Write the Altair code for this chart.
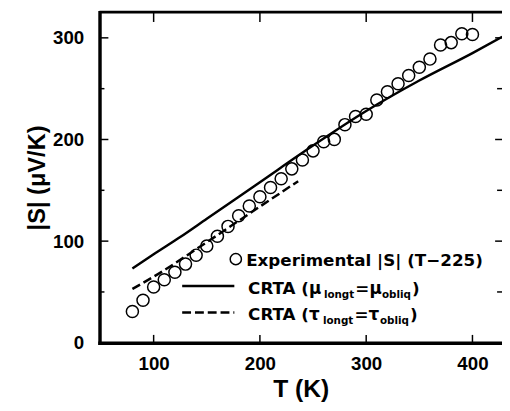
import altair as alt
import pandas as pd

# ---- data ----
T_exp = [80, 90, 100, 110, 120, 130, 140, 150, 160, 170, 180, 190, 200, 210, 220,
         230, 240, 250, 260, 270, 280, 290, 300, 310, 320, 330, 340, 350, 360, 370,
         380, 390, 400]
S_exp = [30.7, 41.9, 54.9, 62.0, 69.4, 77.4, 86.2, 95.2, 104.8, 114.5, 124.9, 134.6,
         143.6, 152.7, 161.4, 171.1, 179.8, 188.8, 197.8, 200.1, 214.6, 222.6, 224.9,
         238.8, 246.9, 254.9, 263.0, 271.1, 279.1, 293.0, 295.3, 304.0, 303.3]
T_mu = [80, 100, 125, 150, 200, 250, 300, 350, 400, 428]
S_mu = [73, 87, 104, 122, 158, 194, 228, 258, 285, 301]
T_tau = [80, 100, 150, 200, 236]
S_tau = [53, 65, 99, 134, 159]
x_ticks = [100, 200, 300, 400]
y_ticks = [0, 100, 200, 300]
y_major_in = [100, 200, 300]
y_minor_in = [50, 150, 250]

FONT = "Liberation Sans"
LFONT = "DejaVu Sans"
W, H = 409, 336
xs = alt.Scale(domain=[49.07, 427.8], nice=False, zero=False)
ys = alt.Scale(domain=[0, 325.3], nice=False, zero=False)

ax_x = alt.Axis(
    values=x_ticks, ticks=False, grid=False, domainWidth=3.5, domainColor="black",
    domainCap="square", labelFont=FONT, labelFontSize=19, labelFontWeight="bold",
    labelColor="black", labelPadding=12, labelFlush=False, format="d",
    title="T (K)", titleFont=FONT, titleFontSize=25, titleFontWeight="bold",
    titleColor="black", titlePadding=4)
ax_y = alt.Axis(
    values=y_ticks, ticks=False, grid=False, domainWidth=3.5, domainColor="black",
    domainCap="square", labelFont=FONT, labelFontSize=19, labelFontWeight="bold",
    labelColor="black", labelPadding=16, labelFlush=False, format="d",
    title="|S| (μV/K)", titleFont=FONT, titleFontSize=24, titleFontWeight="bold",
    titleColor="black", titlePadding=3)

X = alt.X("T:Q", scale=xs, axis=ax_x)
Y = alt.Y("S:Q", scale=ys, axis=ax_y)

exp_df = pd.DataFrame({"T": T_exp, "S": S_exp})
mu_df = pd.DataFrame({"T": T_mu, "S": S_mu})
tau_df = pd.DataFrame({"T": T_tau, "S": S_tau})

points = alt.Chart(exp_df).mark_point(
    shape="circle", filled=False, size=150, stroke="black", strokeWidth=1.5, opacity=1
).encode(x=X, y=Y)

mu_line = alt.Chart(mu_df).mark_line(
    color="black", strokeWidth=2.5, interpolate="monotone", clip=True
).encode(x=X, y=Y)

tau_line = alt.Chart(tau_df).mark_line(
    color="black", strokeWidth=2.5, strokeDash=[9, 4], interpolate="monotone"
).encode(x=X, y=Y)

# frame & inward ticks
one = pd.DataFrame({"a": [0]})
top_frame = alt.Chart(one).mark_rule(color="black", strokeWidth=3).encode(
    x=alt.value(0), x2=alt.value(W), y=alt.value(0))

xt = pd.DataFrame({"T": x_ticks})
bot_ticks = alt.Chart(xt).mark_rule(color="black", strokeWidth=1.5).encode(
    x=X, y=alt.value(H), y2=alt.value(H - 8))
top_ticks = alt.Chart(xt).mark_rule(color="black", strokeWidth=1.5).encode(
    x=X, y=alt.value(0), y2=alt.value(10))

ymaj = pd.DataFrame({"S": y_major_in})
ymin = pd.DataFrame({"S": y_minor_in})
left_maj = alt.Chart(ymaj).mark_rule(color="black", strokeWidth=1.5).encode(
    y=Y, x=alt.value(0), x2=alt.value(9))
left_min = alt.Chart(ymin).mark_rule(color="black", strokeWidth=1.5).encode(
    y=Y, x=alt.value(0), x2=alt.value(5))
right_maj = alt.Chart(ymaj).mark_rule(color="black", strokeWidth=1.5).encode(
    y=Y, x=alt.value(W), x2=alt.value(W - 7))
right_min = alt.Chart(ymin).mark_rule(color="black", strokeWidth=1.5).encode(
    y=Y, x=alt.value(W), x2=alt.value(W - 5))

# legend (manual, to allow subscripts)
def txt(s, x, y, size=17):
    return alt.Chart(one).mark_text(
        text=s, font=LFONT, fontSize=size, fontWeight="bold", color="black",
        align="left", baseline="alphabetic"
    ).encode(x=alt.value(x), y=alt.value(y))

leg_circle = alt.Chart(one).mark_point(
    shape="circle", filled=False, size=130, stroke="black", strokeWidth=1.5, opacity=1
).encode(x=alt.value(138.5), y=alt.value(251))
leg_solid = alt.Chart(one).mark_rule(color="black", strokeWidth=2.5).encode(
    x=alt.value(84), x2=alt.value(137), y=alt.value(278.3))
leg_dash = alt.Chart(one).mark_rule(color="black", strokeWidth=2.5, strokeDash=[9, 4]).encode(
    x=alt.value(84), x2=alt.value(137), y=alt.value(305.3))

r1 = 257.5
r2 = 286
r3 = 312.5
SUB = 10.5
legend_texts = [
    txt("Experimental |S| (T\u2212225)", 149, r1),
    txt("CRTA (\u03bc", 151, r2),
    txt("longt", 228, r2 + 4, SUB),
    txt("=\u03bc", 260, r2),
    txt("obliq", 287, r2 + 4, SUB),
    txt(")", 317.5, r2),
    txt("CRTA (\u03c4", 151, r3),
    txt("longt", 227, r3 + 4, SUB),
    txt("=\u03c4", 259, r3),
    txt("obliq", 285, r3 + 4, SUB),
    txt(")", 315.5, r3),
]

chart = alt.layer(
    points, mu_line, tau_line, top_frame, bot_ticks, top_ticks,
    left_maj, left_min, right_maj, right_min,
    leg_circle, leg_solid, leg_dash, *legend_texts
).properties(
    width=W, height=H,
    padding={"left": 93, "top": 1, "right": 0, "bottom": 58},
    autosize=alt.AutoSizeParams(type="none"),
    background="white",
).configure_view(stroke=None)

chart.save("out.html", embed_options={"renderer": "svg", "actions": False})
